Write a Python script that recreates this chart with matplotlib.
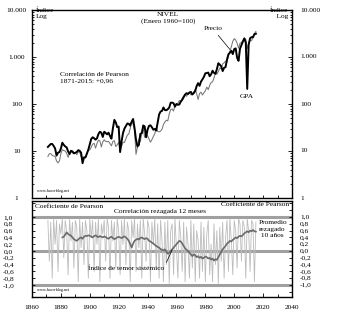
import matplotlib
matplotlib.use('Agg')
import matplotlib.pyplot as plt
from matplotlib.transforms import blended_transform_factory
from matplotlib.ticker import FixedLocator, LogLocator, NullFormatter

# --- data (index, Enero 1960 = 100) ---
years = list(range(1871, 2016))

precio = [7.65, 8.74, 8.81, 8.03, 7.82, 7.69, 6.12, 5.60, 6.17, 8.81,
          10.67, 10.20, 10.01, 8.93, 7.31, 8.96, 9.62, 9.15, 9.03, 9.27,
          8.34, 9.50, 9.67, 7.44, 7.32, 7.36, 7.27, 8.41, 10.48, 10.51,
          12.18, 13.99, 14.58, 11.51, 14.53, 17.01, 16.47, 12.18, 15.61, 17.37,
          15.97, 15.72, 16.03, 14.42, 12.89, 16.08, 16.49, 12.42, 13.53, 15.22,
          11.0, 12.58, 15.34, 15.22, 18.23, 21.80, 23.09, 30.21, 42.84, 37.41,
          27.54, 8.5, 12.22, 18.16, 15.96, 23.71, 30.31, 19.49, 21.54, 21.20,
          18.18, 15.39, 17.39, 20.42, 23.25, 31.05, 26.21, 25.56, 26.47, 29.09,
          36.55, 41.69, 45.11, 43.87, 61.35, 76.08, 78.29, 70.86, 95.85, 100,
          102.9, 119.0, 112.1, 131.7, 148.4, 160.8, 145.5, 163.8, 175.8, 155.6,
          161.1, 178.0, 204.0, 165.6, 125.0, 166.9, 178.9, 155.5, 171.8, 191.1,
          229.1, 202.1, 248.6, 286.7, 295.7, 358.8, 455.8, 431.6, 491.8, 585.9,
          560.9, 717.0, 750.0, 815.1, 801.7, 1058, 1320, 1660, 2152, 2457,
          2302, 1965, 1544, 1952, 2036, 2204, 2454, 2376, 1492, 1936,
          2210, 2241, 2551, 3140, 3495]

gpa = [12.2, 13.1, 14.1, 14.1, 12.8, 11.3, 8.0, 9.2, 9.5, 11.3,
       15.0, 13.5, 12.5, 11.9, 9.8, 8.6, 10.1, 9.8, 8.9, 9.2,
       9.5, 10.4, 10.1, 9.2, 5.5, 7.3, 7.3, 8.9, 10.7, 13.8,
       18.0, 19.6, 18.7, 17.4, 18.7, 22.9, 25.7, 24.5, 19.9, 25.7,
       24.2, 22.6, 24.5, 20.8, 18.3, 30.3, 45.9, 40.7, 32.1, 33.0,
       9.5, 16.0, 24.0, 30.0, 34.0, 38.5, 37.9, 34.6, 42.2, 48.0,
       30.6, 17.4, 12.5, 13.5, 23.2, 23.9, 34.9, 33.3, 19.6, 28.4,
       34.3, 35.2, 32.1, 28.4, 29.4, 27.2, 39.8, 59.9, 69.1, 71.3,
       84.4, 74.3, 73.7, 77.4, 83.8, 106.4, 107.0, 104.0, 87.8, 100,
       96.0, 97.6, 112.8, 122.9, 139.4, 158.7, 169.7, 163.0, 176.1, 180.7,
       159.3, 170.9, 190.2, 241.3, 277.1, 243.7, 300.0, 333.9, 377.7, 449.8,
       455.4, 466.1, 390.2, 427.5, 511.0, 459.0, 438.5, 552.0, 737.3, 688.7,
       633.9, 501.5, 590.2, 609.2, 882.3, 1144, 1232, 1355, 1153, 1473,
       1525, 962, 830, 1503, 1793, 2135, 2493, 2024, 210, 1844,
       2511, 2645, 2645, 3064, 3128]

# correlación rezagada 12 meses (coef. de Pearson)
corr12 = [0.9, -0.3, 0.85, -0.8, 0.95, 0.2, 0.9, -0.6, 0.8, 0.5,
          0.95, -0.2, 0.9, 0.6, -0.7, 0.95, 0.3, 0.85, -0.5, 0.9,
          0.7, -0.9, 0.95, 0.1, 0.85, -0.4, 0.9, 0.6, -0.8, 0.95,
          0.4, 0.9, -0.6, 0.85, 0.2, 0.95, -0.9, 0.8, 0.5, 0.9,
          -0.3, 0.95, 0.7, -0.8, 0.9, 0.3, 0.85, -0.5, 0.95, 0.6,
          -0.7, 0.9, 0.2, 0.95, -0.4, 0.85, 0.6, -0.9, 0.9, 0.4,
          0.95, -0.6, 0.8, 0.1, 0.9, -0.8, 0.95, 0.5, -0.3, 0.9,
          0.7, -0.9, 0.85, 0.2, 0.95, -0.5, 0.8, -0.8, 0.9, 0.3,
          -0.9, 0.85, -0.4, 0.9, -0.95, 0.6, 0.8, -0.7, 0.95, 0.1,
          -0.8, 0.9, 0.4, -0.6, 0.85, -0.9, 0.7, 0.2, -0.8, 0.9,
          -0.5, 0.8, -0.9, 0.6, 0.3, -0.8, 0.85, -0.6, 0.7, -0.9,
          0.5, 0.9, -0.7, 0.2, -0.9, 0.8, -0.4, 0.6, -0.95, 0.7,
          -0.3, 0.85, -0.8, 0.4, 0.9, -0.6, 0.95, 0.3, -0.7, 0.9,
          0.6, -0.5, 0.95, 0.8, -0.3, 0.9, 0.7, -0.8, 0.95, 0.6,
          -0.6, 0.9, 0.8, -0.9, 0.85]

avg_years = list(range(1881, 2016))
avg10 = [0.40, 0.42, 0.48, 0.55, 0.50, 0.47, 0.45, 0.40, 0.35, 0.32,
         0.30, 0.34, 0.38, 0.40, 0.36, 0.42, 0.45, 0.44, 0.46, 0.45,
         0.42, 0.40, 0.44, 0.46, 0.43, 0.41, 0.44, 0.42, 0.40, 0.43,
         0.41, 0.38, 0.36, 0.40, 0.42, 0.38, 0.35, 0.37, 0.40, 0.42,
         0.40, 0.38, 0.41, 0.43, 0.40, 0.36, 0.30, 0.20, 0.10, 0.22,
         0.30, 0.33, 0.36, 0.34, 0.38, 0.40, 0.37, 0.35, 0.38, 0.36,
         0.30, 0.28, 0.25, 0.22, 0.18, 0.15, 0.12, 0.10, 0.06, 0.04,
         0.02, 0.05, -0.02, -0.08, -0.05, 0.00, 0.05, 0.10, 0.15, 0.20,
         0.25, 0.30, 0.28, 0.22, 0.15, 0.08, 0.04, 0.00, -0.05, -0.10,
         -0.15, -0.10, -0.12, -0.18, -0.15, -0.20, -0.17, -0.22, -0.20, -0.16,
         -0.18, -0.22, -0.20, -0.25, -0.22, -0.28, -0.24, -0.26, -0.18, -0.10,
         -0.02, 0.05, 0.10, 0.15, 0.22, 0.25, 0.30, 0.28, 0.33, 0.36,
         0.40, 0.38, 0.42, 0.45, 0.43, 0.47, 0.52, 0.55, 0.58, 0.55,
         0.60, 0.58, 0.62, 0.58, 0.57]

log_ticks = [1, 10, 100, 1000, 10000]
log_labels = ['1', '10', '100', '1.000', '10.000']
corr_ticks = [-1.0, -0.8, -0.6, -0.4, -0.2, 0.0, 0.2, 0.4, 0.6, 0.8, 1.0]
corr_labels = ['-1,0', '-0,8', '-0,6', '-0,4', '-0,2', '0,0',
               '0,2', '0,4', '0,6', '0,8', '1,0']
x_ticks = list(range(1860, 2041, 20))

W, H = 352, 317
plt.rcParams['font.family'] = ['Liberation Serif', 'DejaVu Serif']
fs = 5.3


def box(l, t, r, b):
    return [l / W, 1 - b / H, (r - l) / W, (b - t) / H]


def fig_pt(x, y):
    return (x / W, 1 - y / H)


fig = plt.figure(figsize=(W / 100, H / 100), dpi=100)
ax1 = fig.add_axes(box(32, 10, 292, 198))
ax2 = fig.add_axes(box(32, 201, 292, 297))

# ---- top panel ----
ax1.plot(years, precio, color='#767676', lw=0.75)
ax1.plot(years, gpa, color='black', lw=1.4)
ax1.set_yscale('log')
ax1.set_ylim(1, 10000)
ax1.set_xlim(1860, 2040)
ax1.yaxis.set_major_locator(FixedLocator(log_ticks))
ax1.yaxis.set_minor_locator(LogLocator(base=10, subs=range(2, 10)))
ax1.yaxis.set_minor_formatter(NullFormatter())
ax1.set_yticklabels(log_labels)
ax1.xaxis.set_major_locator(FixedLocator(list(range(1860, 2041, 10))))
ax1.tick_params(axis='x', direction='in', length=2.5, width=0.6,
                labelbottom=False, top=False)
ax1.tick_params(axis='y', which='both', direction='in', right=True,
                labelsize=fs, width=0.6)
ax1.tick_params(axis='y', which='major', length=3, pad=11)
ax1.tick_params(axis='y', which='minor', length=1.5)

ax1.text(*fig_pt(36, 13), 'Índice\nLog', transform=fig.transFigure,
         fontsize=fs, va='center', ha='left', linespacing=1.3)
ax1.text(*fig_pt(288, 13), 'Índice\n    Log', transform=fig.transFigure,
         fontsize=fs, va='center', ha='right', linespacing=1.3)
ax1.text(*fig_pt(168, 18), 'NIVEL\n(Enero 1960=100)', transform=fig.transFigure,
         fontsize=fs, va='center', ha='center', linespacing=1.3)
ax1.text(*fig_pt(60, 78), 'Correlación de Pearson\n1871-2015: +0,96',
         transform=fig.transFigure, fontsize=fs, va='center', ha='left',
         linespacing=1.4)
ax1.text(*fig_pt(37, 191), 'www.hacerblog.net', transform=fig.transFigure,
         fontsize=3, va='center', ha='left')
ax1.annotate('Precio', xy=(1997, 1450), xycoords='data',
             xytext=fig_pt(213, 29), textcoords='figure fraction',
             fontsize=fs, ha='center', va='center',
             arrowprops=dict(arrowstyle='-', color='black', lw=0.5,
                             shrinkA=1, shrinkB=0))
ax1.annotate('GPA', xy=(2009, 215), xycoords='data',
             xytext=fig_pt(247, 97), textcoords='figure fraction',
             fontsize=fs, ha='center', va='center',
             arrowprops=dict(arrowstyle='-', color='black', lw=0.5,
                             shrinkA=2, shrinkB=0))

# ---- bottom panel ----
for yv in (-1, 0, 1):
    ax2.axhline(yv, color='#a0a0a0', lw=2.2, zorder=1)
ax2.plot(years, corr12, color='#bcbcbc', lw=0.6, zorder=2)
ax2.plot(avg_years, avg10, color='#6a6a6a', lw=1.2, zorder=3)
ax2.set_xlim(1860, 2040)
ax2.set_ylim(-1.35, 1.47)
ax2.set_yticks([-1.2] + corr_ticks + [1.2, 1.4])
ax2.set_yticklabels([''] + corr_labels + ['', ''])
ax2.set_xticks(x_ticks)
ax2.set_xticklabels([str(v) for v in x_ticks])
ax2.set_xticks(list(range(1860, 2041, 10)), minor=True)
ax2.tick_params(axis='x', which='both', direction='in', labelsize=fs,
                width=0.6, pad=6)
ax2.tick_params(axis='x', which='major', length=3)
ax2.tick_params(axis='x', which='minor', length=2)
ax2.tick_params(axis='y', direction='in', right=True, labelsize=fs,
                length=2.5, width=0.6, pad=17)
ax2.text(*fig_pt(35, 206), 'Coeficiente de Pearson', transform=fig.transFigure,
         fontsize=fs, va='center', ha='left')
ax2.text(*fig_pt(289, 205), 'Coeficiente de Pearson', transform=fig.transFigure,
         fontsize=fs, va='center', ha='right')
ax2.text(*fig_pt(160, 212), 'Correlación rezagada 12 meses',
         transform=fig.transFigure, fontsize=fs, va='center', ha='center')
ax2.text(*fig_pt(259, 229), 'Promedio\nrezagado\n 10 años',
         transform=fig.transFigure, fontsize=fs, va='center', ha='left',
         linespacing=1.4)
ax2.text(*fig_pt(37, 290), 'www.hacerblog.net', transform=fig.transFigure,
         fontsize=3, va='center', ha='left')
ax2.annotate('Índice de temor sistémico', xy=(1957, 0.03), xycoords='data',
             xytext=fig_pt(126, 268), textcoords='figure fraction',
             fontsize=fs, ha='center', va='center',
             arrowprops=dict(arrowstyle='-', color='black', lw=0.5,
                             shrinkA=0, shrinkB=0, relpos=(1.0, 0.6)))

for a in (ax1, ax2):
    for s in a.spines.values():
        s.set_linewidth(1.0)
    # left labels centred under their own column
    for tick in a.yaxis.get_major_ticks():
        tick.label1.set_horizontalalignment('center')

# right-hand labels, left-aligned at x = 300 px
for v, s in zip(log_ticks, log_labels):
    ax1.text(300 / W, v, s, transform=blended_transform_factory(fig.transFigure, ax1.transData),
             fontsize=fs, ha='left', va='center')
for v, s in zip(corr_ticks, corr_labels):
    ax2.text(300 / W, v, s, transform=blended_transform_factory(fig.transFigure, ax2.transData),
             fontsize=fs, ha='left', va='center')

fig.savefig('out.png', dpi=100)
